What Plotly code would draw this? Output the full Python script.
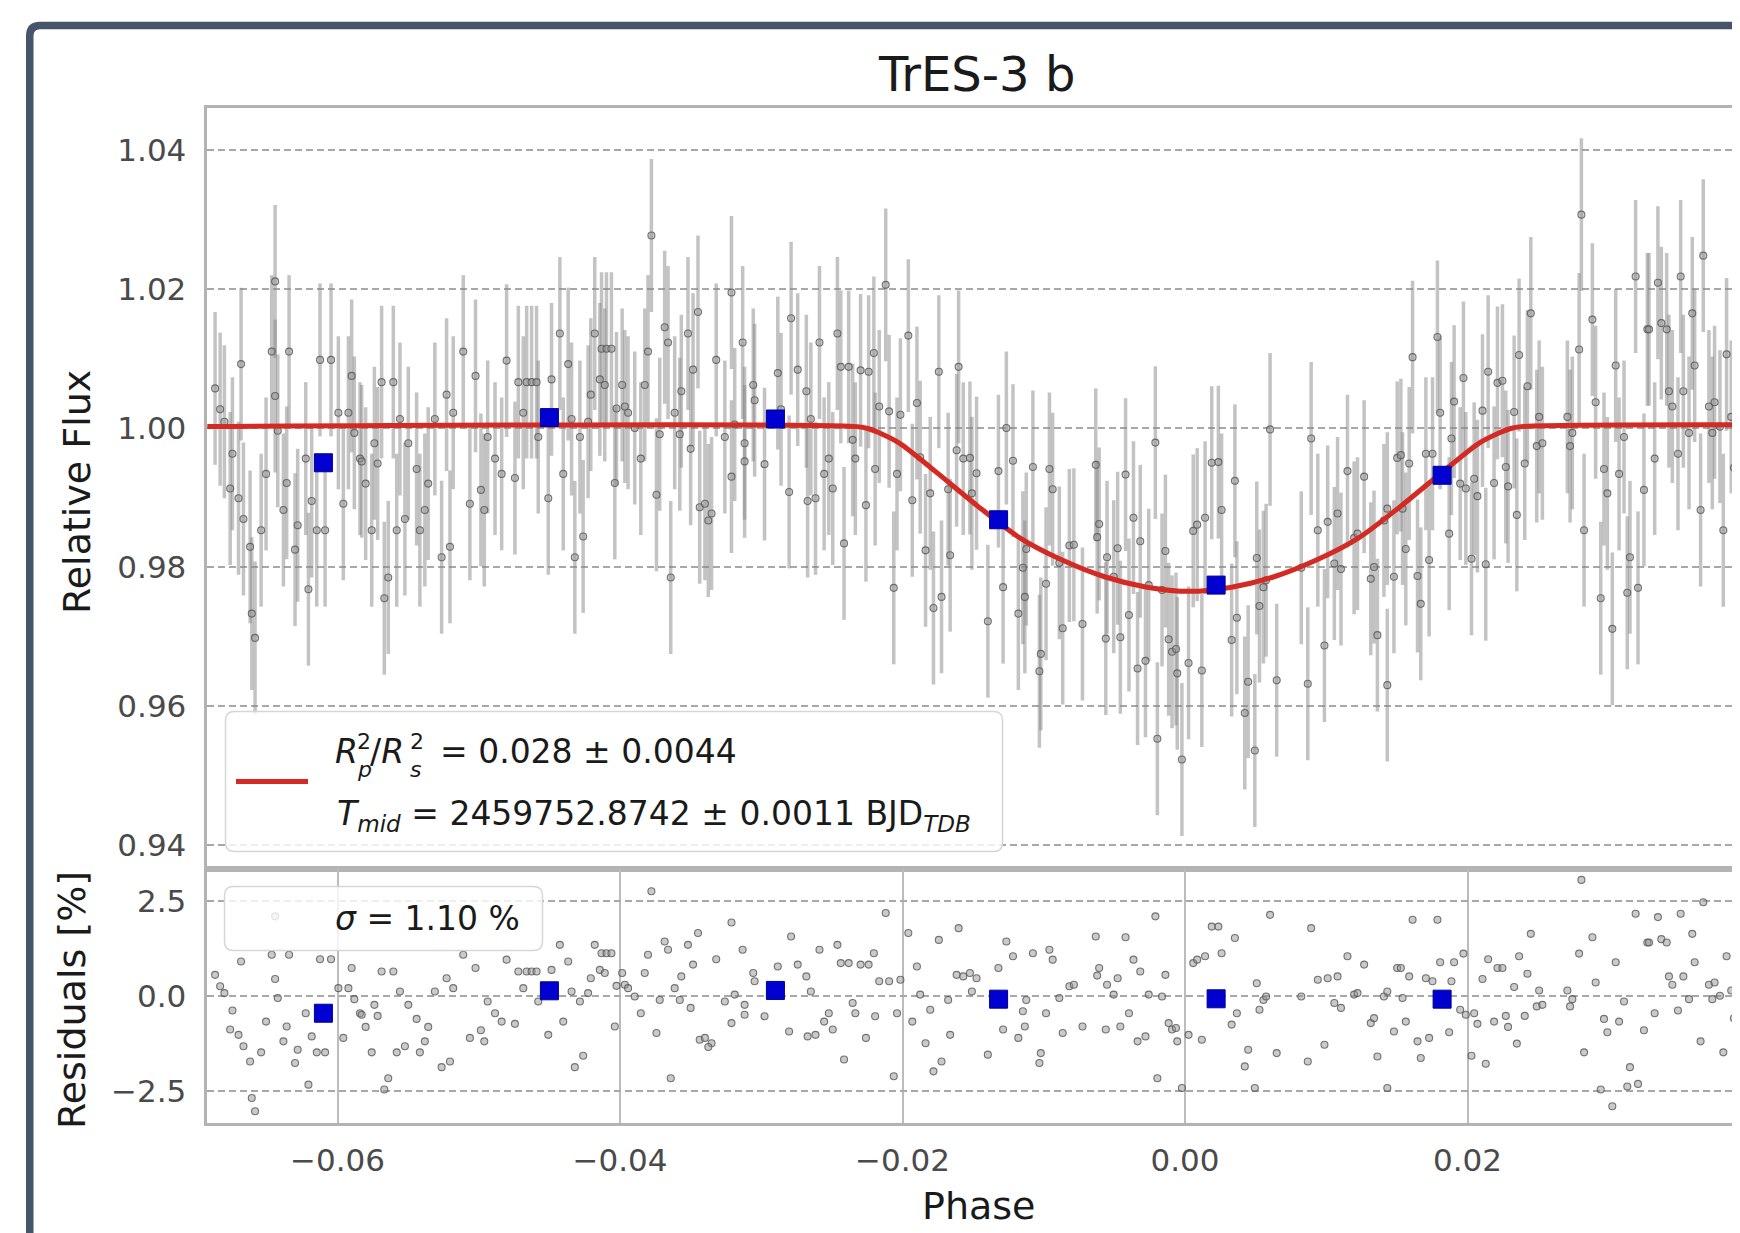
import plotly.graph_objects as go

# ---------------- data ----------------
PHASE = [
    -0.06867, -0.06831, -0.06801, -0.06744, -0.06760, -0.06701, -0.06683, -0.06666, -0.06619, -0.06607,
    -0.06584, -0.06541, -0.06506, -0.06466, -0.06442, -0.06442, -0.06423, -0.06383, -0.06360, -0.06343,
    -0.06301, -0.06282, -0.06225, -0.06206, -0.06183, -0.06147, -0.06124, -0.06088, -0.06046, -0.05994,
    -0.05959, -0.05923, -0.05900, -0.05881, -0.05841, -0.05829, -0.05801, -0.05758, -0.05739, -0.05716,
    -0.05688, -0.05669, -0.05641, -0.05605, -0.05581, -0.05558, -0.05523, -0.05499, -0.05440, -0.05417,
    -0.05382, -0.05358, -0.05311, -0.05263, -0.05228, -0.05204, -0.05181, -0.05110, -0.05063, -0.05023,
    -0.04985, -0.04961, -0.04937, -0.04885, -0.04838, -0.04803, -0.04744, -0.04720, -0.04685, -0.04661,
    -0.04626, -0.04591, -0.04579, -0.04508, -0.04485, -0.04426, -0.04402, -0.04367, -0.04343, -0.04320,
    -0.04284, -0.04261, -0.04226, -0.04207, -0.04179, -0.04143, -0.04131, -0.04108, -0.04096, -0.04061,
    -0.04037, -0.04025, -0.03985, -0.03966, -0.03943, -0.03896, -0.03853, -0.03825, -0.03802, -0.03778,
    -0.03742, -0.03719, -0.03684, -0.03660, -0.03641, -0.03613, -0.03577, -0.03566, -0.03519, -0.03500,
    -0.03483, -0.03448, -0.03436,
    -0.03399, -0.03352, -0.03375, -0.03319, -0.03258, -0.03211, -0.03211, -0.03188, -0.03132, -0.03118,
    -0.03118, -0.03057, -0.03047, -0.02977, -0.02883, -0.02860, -0.02789, -0.02803, -0.02742, -0.02681,
    -0.02672, -0.02649, -0.02616, -0.02588, -0.02555, -0.02522, -0.02494, -0.02461, -0.02437, -0.02414,
    -0.02381, -0.02353, -0.02334, -0.02297, -0.02259, -0.02240, -0.02203, -0.02194, -0.02165, -0.02119,
    -0.02095, -0.02062, -0.02039, -0.02015, -0.01959, -0.01931, -0.01898, -0.01875, -0.01837, -0.01804,
    -0.01781, -0.01743, -0.01724, -0.01677, -0.01663, -0.01603, -0.01617, -0.01570, -0.01523, -0.01509,
    -0.01476, -0.01396, -0.01321, -0.01288, -0.01265, -0.01218, -0.01180, -0.01148, -0.01134, -0.01124,
    -0.01077, -0.01031, -0.01021, -0.00984, -0.00960, -0.00937, -0.00890, -0.00866, -0.00819, -0.00787,
    -0.00726, -0.00632, -0.00608, -0.00622, -0.00561, -0.00552, -0.00505, -0.00477, -0.00458, -0.00421,
    -0.00397, -0.00365, -0.00336, -0.00317, -0.00280, -0.00257, -0.00210, -0.00196, -0.00163, -0.00139,
    -0.00116, -0.00092, -0.00064, -0.00055, -0.00022, 0.00025, 0.00058, 0.00086, 0.00119, 0.00142,
    0.00189, 0.00236, 0.00259, 0.00330, 0.00353, 0.00367, 0.00423, 0.00447, 0.00494, 0.00508,
    0.00527, 0.00555, 0.00574, 0.00602, 0.00649, 0.00823, 0.00869, 0.00893, 0.00940, 0.00987,
    0.01010, 0.01057, 0.01080, 0.01104, 0.01150, 0.01197, 0.01221, 0.01268, 0.01315, 0.01338,
    0.01362, 0.01408, 0.01432, 0.01432, 0.01479, 0.01502,
    0.01528, 0.01540, 0.01563, 0.01587, 0.01611, 0.01646, 0.01669, 0.01705, 0.01728, 0.01752,
    0.01787, 0.01806, 0.01870, 0.01886, 0.01905, 0.01948, 0.01971, 0.01988, 0.02028, 0.02047,
    0.02070, 0.02106, 0.02129, 0.02146, 0.02188, 0.02212, 0.02247, 0.02271, 0.02287, 0.02330,
    0.02349, 0.02365, 0.02405, 0.02424, 0.02448, 0.02490, 0.02507, 0.02530, 0.02707, 0.02726,
    0.02742, 0.02790, 0.02806, 0.02825, 0.02884, 0.02907, 0.02943, 0.02966, 0.02990, 0.03025,
    0.03049, 0.03073, 0.03108, 0.03131, 0.03150, 0.03190, 0.03207, 0.03249, 0.03273, 0.03285,
    0.03325, 0.03348, 0.03372, 0.03410, 0.03426, 0.03450, 0.03490, 0.03509, 0.03528, 0.03568,
    0.03591, 0.03608, 0.03650, 0.03669, 0.03709, 0.03733, 0.03749, 0.03787, 0.03811, 0.03834,
    0.03867, 0.03886, 0.03905, 0.03921,
]

FLUX = [
    1.0057, 1.0027, 1.0009, 0.9963, 0.9913, 0.9899, 1.0092, 0.9869, 0.9829, 0.9733,
    0.9698, 0.9853, 0.9934, 1.0110, 1.0211, 1.0046, 0.9996, 0.9882, 0.9921, 1.0110,
    0.9825, 0.9860, 0.9956, 0.9768, 0.9895, 0.9853, 1.0098, 0.9853, 1.0098, 1.0022,
    0.9891, 1.0022, 1.0075, 0.9993, 0.9956, 0.9952, 0.9920, 0.9853, 0.9978, 0.9949,
    1.0066, 0.9755, 0.9785, 1.0066, 0.9853, 1.0013, 0.9869, 0.9978, 0.9941, 0.9853,
    0.9882, 0.9920, 1.0013, 0.9814, 1.0048, 0.9829, 1.0022, 1.0110, 0.9891, 1.0075,
    0.9911, 0.9882, 0.9987, 0.9956, 0.9934, 1.0097, 0.9928, 1.0066, 1.0022, 1.0066,
    1.0066, 1.0066, 0.9987, 0.9899, 1.0070, 1.0136, 0.9934, 1.0092, 1.0013, 0.9814,
    0.9987, 0.9844, 1.0009, 1.0048, 1.0136, 1.0070, 1.0114, 1.0062, 1.0114, 1.0114,
    0.9921, 1.0028, 1.0062, 1.0031, 1.0022, 1.0000, 0.9956, 1.0062, 1.0110, 1.0277,
    0.9904, 0.9991, 1.0145, 1.0123, 0.9785, 1.0022, 0.9991, 1.0053, 1.0136, 0.9970,
    1.0084, 1.0167, 0.9886,
    0.9891, 0.9877, 0.9867, 1.0098, 0.9987, 1.0195, 0.9930, 1.0005, 1.0123, 0.9978,
    0.9952, 1.0062, 1.0040, 0.9948, 1.0079, 1.0027, 1.0158, 0.9908, 1.0084, 1.0053,
    0.9895, 1.0013, 0.9899, 1.0123, 0.9934, 0.9956, 0.9913, 1.0136, 1.0088, 0.9834,
    1.0088, 0.9983, 0.9956, 1.0083, 0.9889, 1.0081, 1.0108, 0.9941, 1.0031, 1.0206,
    1.0024, 0.9770, 0.9934, 1.0019, 1.0133, 0.9896, 1.0036, 0.9958, 0.9824, 0.9906,
    0.9741, 1.0081, 0.9757, 0.9912, 0.9817, 1.0088, 0.9968, 0.9956, 0.9957, 0.9906,
    0.9935, 0.9722, 0.9938, 0.9771, 1.0000, 0.9953, 0.9733, 0.9799, 0.9757, 0.9826,
    0.9944, 0.9650, 0.9675, 0.9776, 0.9941, 0.9912, 0.9806, 0.9712, 0.9831, 0.9832,
    0.9718, 0.9947, 0.9862, 0.9843, 0.9697, 0.9814, 0.9786, 0.9827, 0.9699, 0.9933,
    0.9731, 0.9871, 0.9654, 0.9837, 0.9665, 0.9774, 0.9979, 0.9553, 0.9767, 0.9823,
    0.9696, 0.9678, 0.9682, 0.9647, 0.9523, 0.9662, 0.9852, 0.9861, 0.9651, 0.9871,
    0.9950, 0.9951, 0.9882, 0.9695, 0.9924, 0.9727, 0.9590, 0.9635, 0.9536, 0.9813,
    0.9744, 0.9771, 0.9781, 0.9998, 0.9637, 0.9799, 0.9632, 0.9985, 0.9853, 0.9687,
    0.9865, 0.9805, 0.9877, 0.9797, 0.9938, 0.9842, 0.9848, 0.9930, 0.9783, 0.9800,
    0.9702, 0.9867, 0.9884, 0.9630, 0.9786, 0.9957,
    0.9961, 0.9884, 0.9826, 0.9949, 1.0102, 0.9787, 0.9747, 0.9963, 0.9810, 0.9963,
    1.0131, 1.0022, 0.9848, 0.9985, 1.0038, 0.9920, 1.0072, 0.9913, 0.9812, 0.9927,
    0.9902, 1.0025, 0.9804, 1.0081, 0.9921, 1.0065, 1.0068, 0.9944, 0.9916, 1.0023,
    0.9875, 1.0105, 0.9949, 1.0060, 1.0165, 0.9974, 1.0016, 0.9978, 1.0016, 0.9974,
    0.9993, 1.0113, 1.0307, 0.9853, 1.0156, 1.0037, 0.9755, 0.9941, 0.9906, 0.9711,
    1.0090, 0.9934, 0.9987, 0.9763, 0.9814, 1.0218, 0.9770, 0.9911, 1.0142, 1.0142,
    0.9956, 1.0209, 1.0151, 1.0142, 1.0053, 1.0031, 0.9963, 1.0218, 1.0053, 0.9993,
    1.0165, 1.0090, 0.9882, 1.0248, 1.0031, 0.9993, 1.0037, 1.0002, 0.9853, 1.0106,
    1.0016, 0.9943, 0.9972, 0.9934,
]

RESID = [
    0.55, 0.25, 0.07, -0.39, -0.89, -1.03, 0.90, -1.33, -1.73, -2.69,
    -3.04, -1.49, -0.68, 1.08, 2.09, 0.44, -0.06, -1.20, -0.81, 1.08,
    -1.77, -1.42, -0.46, -2.34, -1.07, -1.49, 0.96, -1.49, 0.96, 0.20,
    -1.11, 0.20, 0.73, -0.09, -0.46, -0.50, -0.82, -1.49, -0.24, -0.53,
    0.64, -2.47, -2.17, 0.64, -1.49, 0.11, -1.33, -0.24, -0.61, -1.49,
    -1.20, -0.82, 0.11, -1.88, 0.46, -1.73, 0.20, 1.08, -1.11, 0.73,
    -0.91, -1.20, -0.15, -0.46, -0.68, 0.95, -0.74, 0.64, 0.20, 0.64,
    0.64, 0.64, -0.15, -1.03, 0.68, 1.34, -0.68, 0.90, 0.11, -1.88,
    -0.15, -1.58, 0.07, 0.46, 1.34, 0.68, 1.12, 0.60, 1.12, 1.12,
    -0.81, 0.26, 0.60, 0.29, 0.20, -0.02, -0.46, 0.60, 1.08, 2.75,
    -0.98, -0.11, 1.43, 1.21, -2.17, 0.20, -0.11, 0.51, 1.34, -0.32,
    0.82, 1.65, -1.16,
    -1.11, -1.25, -1.35, 0.96, -0.15, 1.93, -0.72, 0.03, 1.21, -0.24,
    -0.50, 0.60, 0.38, -0.54, 0.77, 0.25, 1.56, -0.94, 0.82, 0.51,
    -1.07, 0.11, -1.03, 1.21, -0.68, -0.46, -0.89, 1.34, 0.86, -1.68,
    0.86, -0.19, -0.46, 0.82, -1.11, 0.82, 1.12, -0.54, 0.38, 2.18,
    0.38, -2.12, -0.46, 0.42, 1.65, -0.68, 0.77, 0.03, -1.25, -0.37,
    -1.99, 1.47, -1.73, -0.11, -1.03, 1.78, 0.55, 0.51, 0.60, 0.11,
    0.46, -1.55, 0.73, -0.89, 1.43, 1.04, -1.11, -0.41, -0.81, -0.11,
    1.12, -1.77, -1.51, -0.46, 1.21, 0.95, -0.06, -0.98, 0.25, 0.29,
    -0.81, 1.56, 0.73, 0.53, -0.89, 0.29, 0.03, 0.46, -0.81, 1.54,
    -0.46, 0.95, -1.20, 0.64, -1.07, 0.03, 2.09, -2.17, -0.02, 0.55,
    -0.72, -0.89, -0.85, -1.20, -2.43, -1.03, 0.86, 0.95, -1.16, 1.04,
    1.82, 1.82, 1.12, -0.76, 1.52, -0.46, -1.86, -1.42, -2.43, 0.33,
    -0.37, -0.11, -0.02, 2.13, -1.51, -0.02, -1.73, 1.78, 0.42, -1.29,
    0.46, -0.19, 0.51, -0.32, 1.04, 0.03, 0.07, 0.82, -0.72, -0.59,
    -1.60, -0.02, 0.11, -2.43, -0.94, 0.73,
    0.73, -0.06, -0.68, 0.51, 2.00, -1.20, -1.64, 0.46, -1.11, 0.38,
    2.00, 0.88, -0.96, 0.38, 0.88, -0.37, 1.11, -0.50, -1.58, -0.46,
    -0.74, 0.44, -1.79, 0.96, -0.68, 0.73, 0.73, -0.53, -0.82, 0.23,
    -1.26, 1.04, -0.53, 0.58, 1.63, -0.28, 0.14, -0.24, 0.14, -0.28,
    -0.09, 1.11, 3.05, -1.49, 1.54, 0.35, -2.47, -0.61, -0.96, -2.91,
    0.88, -0.68, -0.15, -2.39, -1.88, 2.16, -2.32, -0.91, 1.40, 1.40,
    -0.46, 2.07, 1.49, 1.40, 0.51, 0.29, -0.39, 2.16, 0.51, -0.09,
    1.63, 0.88, -1.20, 2.46, 0.29, -0.09, 0.35, 0.00, -1.49, 1.04,
    0.14, -0.59, -0.30, -0.68,
]

FLUX_ERR = 0.011  # typical error bar half-length

BIN_PHASE = [-0.0610, -0.0450, -0.0290, -0.0132, 0.0022, 0.0182]
BIN_FLUX = [0.9950, 1.0015, 1.0013, 0.9868, 0.9774, 0.9932]
BIN_RESID = [-0.46, 0.13, 0.14, -0.09, -0.08, -0.09]

MODEL_PHASE = [-0.0700, -0.0232, -0.0224, -0.0217, -0.0202, -0.0177, -0.0147, -0.0117,
               -0.0087, -0.0057, -0.0027, 0.0003, 0.0033, 0.0063, 0.0093, 0.0123,
               0.0153, 0.0183, 0.0208, 0.0223, 0.0230, 0.0238, 0.0700]
MODEL_FLUX = [1.0002, 1.0002, 0.9999, 0.99935, 0.9978, 0.9938, 0.9888, 0.9842,
              0.9810, 0.9786, 0.9771, 0.9765, 0.9771, 0.9786, 0.9810, 0.9842,
              0.9888, 0.9938, 0.9978, 0.99935, 0.9999, 1.0002, 1.0002]

FLUX_TICKS = [0.94, 0.96, 0.98, 1.00, 1.02, 1.04]
FLUX_TICKTEXT = ["0.94", "0.96", "0.98", "1.00", "1.02", "1.04"]
RES_TICKS = [-2.5, 0.0, 2.5]
RES_TICKTEXT = ["\u22122.5", "0.0", "2.5"]
PHASE_TICKS = [-0.06, -0.04, -0.02, 0.00, 0.02]
PHASE_TICKTEXT = ["\u22120.06", "\u22120.04", "\u22120.02", "0.00", "0.02"]

TITLE = "TrES-3 b"
LEGEND_LINE2 = "<i>T</i><sub><i>mid</i></sub> = 2459752.8742 \u00b1 0.0011 BJD<sub><i>TDB</i></sub>"
SIGMA_TEXT = "<i>\u03c3</i> = 1.10 %"

# ---------------- geometry helpers (window pixel -> paper) ----------------
W, H = 1740, 1233
OFF = 8  # the page body margin shifts the figure by 8 px
FONT = "DejaVu Sans"


def px(x):
    return (x - OFF) / W


def py(y):
    return 1 - (y - OFF) / H


def P(x, y):
    return f"{px(x):.6f},{py(y):.6f}"


def rrect(x0, y0, x1, y1, r):
    return ("M " + P(x0 + r, y0) + " L " + P(x1 - r, y0) + " Q " + P(x1, y0) + " " + P(x1, y0 + r)
            + " L " + P(x1, y1 - r) + " Q " + P(x1, y1) + " " + P(x1 - r, y1)
            + " L " + P(x0 + r, y1) + " Q " + P(x0, y1) + " " + P(x0, y1 - r)
            + " L " + P(x0, y0 + r) + " Q " + P(x0, y0) + " " + P(x0 + r, y0) + " Z")


X_RANGE = [-0.06922, 0.03929]
SPINE = "#b3b3b3"
GRID = "#a8a8a8"
TICKCOL = "#4a4a4a"
LABELCOL = "#1a1a1a"
RED = "#d42a24"
BLUE = "#0000d0"

fig = go.Figure()

# top panel: data with error bars
fig.add_trace(go.Scatter(
    x=PHASE, y=FLUX, mode="markers", xaxis="x", yaxis="y",
    marker=dict(size=7, color="rgba(150,150,150,0.5)",
                line=dict(color="rgba(85,85,85,0.8)", width=1.1)),
    error_y=dict(type="constant", value=FLUX_ERR, color="rgba(135,135,135,0.5)",
                 thickness=3.5, width=0),
    hoverinfo="skip", showlegend=False))

# model
fig.add_trace(go.Scatter(
    x=MODEL_PHASE, y=MODEL_FLUX, mode="lines", xaxis="x", yaxis="y",
    line=dict(color=RED, width=5, shape="spline", smoothing=0.8),
    hoverinfo="skip", showlegend=False))

# binned
fig.add_trace(go.Scatter(
    x=BIN_PHASE, y=BIN_FLUX, mode="markers", xaxis="x", yaxis="y",
    marker=dict(symbol="square", size=18, color=BLUE, line=dict(color="#000090", width=1)),
    hoverinfo="skip", showlegend=False))

# residual panel
fig.add_trace(go.Scatter(
    x=PHASE, y=RESID, mode="markers", xaxis="x2", yaxis="y2",
    marker=dict(size=7, color="rgba(150,150,150,0.5)",
                line=dict(color="rgba(85,85,85,0.8)", width=1.1)),
    hoverinfo="skip", showlegend=False))
fig.add_trace(go.Scatter(
    x=BIN_PHASE, y=BIN_RESID, mode="markers", xaxis="x2", yaxis="y2",
    marker=dict(symbol="square", size=18, color=BLUE, line=dict(color="#000090", width=1)),
    hoverinfo="skip", showlegend=False))

X_LEFT, X_RIGHT = 207.3, 1740
TOP_T, TOP_B = 107.5, 868.5
RES_T, RES_B = 868.5, 1123.0

tickfont = dict(family=FONT, size=31, color=TICKCOL)

fig.update_layout(
    width=W, height=H, autosize=False,
    margin=dict(l=0, r=0, t=0, b=0, pad=0),
    paper_bgcolor="white", plot_bgcolor="white",
    showlegend=False,
    xaxis=dict(domain=[px(X_LEFT), px(X_RIGHT)], range=X_RANGE, anchor="y",
               showticklabels=False, showgrid=False, zeroline=False,
               showline=True, mirror=True, linecolor=SPINE, linewidth=2.5, ticks=""),
    yaxis=dict(domain=[py(TOP_B), py(TOP_T)], range=[0.93662, 1.04612], anchor="x",
               tickvals=FLUX_TICKS, ticktext=FLUX_TICKTEXT, tickfont=tickfont,
               showgrid=True, gridcolor=GRID, gridwidth=1.5, griddash="7px,4px",
               zeroline=False, showline=True, mirror=False, linecolor=SPINE, linewidth=2.5,
               ticks="", ticklabelstandoff=12),
    xaxis2=dict(domain=[px(X_LEFT), px(X_RIGHT)], range=X_RANGE, anchor="y2", matches="x",
                tickvals=PHASE_TICKS, ticktext=PHASE_TICKTEXT, tickfont=tickfont,
                showgrid=True, gridcolor="#bcbcbc", gridwidth=2,
                zeroline=False, showline=True, mirror=True, linecolor=SPINE, linewidth=2.5,
                ticks="", ticklabelstandoff=8),
    yaxis2=dict(domain=[py(RES_B), py(RES_T)], range=[-3.35, 3.35], anchor="x2",
                tickvals=RES_TICKS, ticktext=RES_TICKTEXT, tickfont=tickfont,
                showgrid=True, gridcolor=GRID, gridwidth=1.5, griddash="7px,4px",
                zeroline=False, showline=True, mirror=False, linecolor=SPINE, linewidth=2.5,
                ticks="", ticklabelstandoff=12),
)

shapes = []
# outer dark frame (image is cropped on right and bottom)
shapes.append(dict(type="path", xref="paper", yref="paper",
                   path="M " + P(29.75, 1300) + " L " + P(29.75, 36) + " Q " + P(29.75, 25.5) + " "
                   + P(40, 25.5) + " L " + P(1800, 25.5),
                   line=dict(color="#45556a", width=7.5), layer="above"))
# legend box (top panel)
shapes.append(dict(type="path", xref="paper", yref="paper", path=rrect(225.5, 711.5, 1002.5, 851.5, 9),
                   fillcolor="rgba(255,255,255,0.8)", line=dict(color="#d6d6d6", width=1.5),
                   layer="above"))
shapes.append(dict(type="line", xref="paper", yref="paper",
                   x0=px(236), x1=px(308), y0=py(781.5), y1=py(781.5),
                   line=dict(color=RED, width=5), layer="above"))
# sigma box (residual panel)
shapes.append(dict(type="path", xref="paper", yref="paper", path=rrect(224.5, 886.5, 542.5, 950.5, 9),
                   fillcolor="rgba(255,255,255,0.8)", line=dict(color="#d6d6d6", width=1.5),
                   layer="above"))
fig.update_layout(shapes=shapes)

ann = []


def text(t, x, y, size, color=LABELCOL, xanchor="left", yanchor="middle", angle=0):
    ann.append(dict(text=t, x=px(x), y=py(y), xref="paper", yref="paper",
                    xanchor=xanchor, yanchor=yanchor, showarrow=False, textangle=angle,
                    font=dict(family=FONT, size=size, color=color)))


# title and axis titles
text(TITLE, 977, 74, 48, color="#1a1a1a", xanchor="center")
text("Phase", 978, 1206, 38, xanchor="center")
text("Relative Flux", 77, 492, 38, xanchor="center", angle=-90)
text("Residuals [%]", 72, 1000, 38, xanchor="center", angle=-90)

# legend line 1 : R_p^2 / R_s^2 = 0.028 ± 0.0044 (stacked sub/superscripts)
text("<i>R</i>", 333, 751, 33)
text("2", 355, 741, 22)
text("<i>p</i>", 355, 769, 22)
text("/<i>R</i>", 368, 751, 33)
text("2", 408, 741, 22)
text("<i>s</i>", 408, 769, 22)
text("= 0.028 \u00b1 0.0044", 438, 751, 33)
# legend line 2
text(LEGEND_LINE2, 335, 815, 33)
# sigma
text(SIGMA_TEXT, 333, 918, 33)

fig.update_layout(annotations=ann)

fig.write_html("out.html")
